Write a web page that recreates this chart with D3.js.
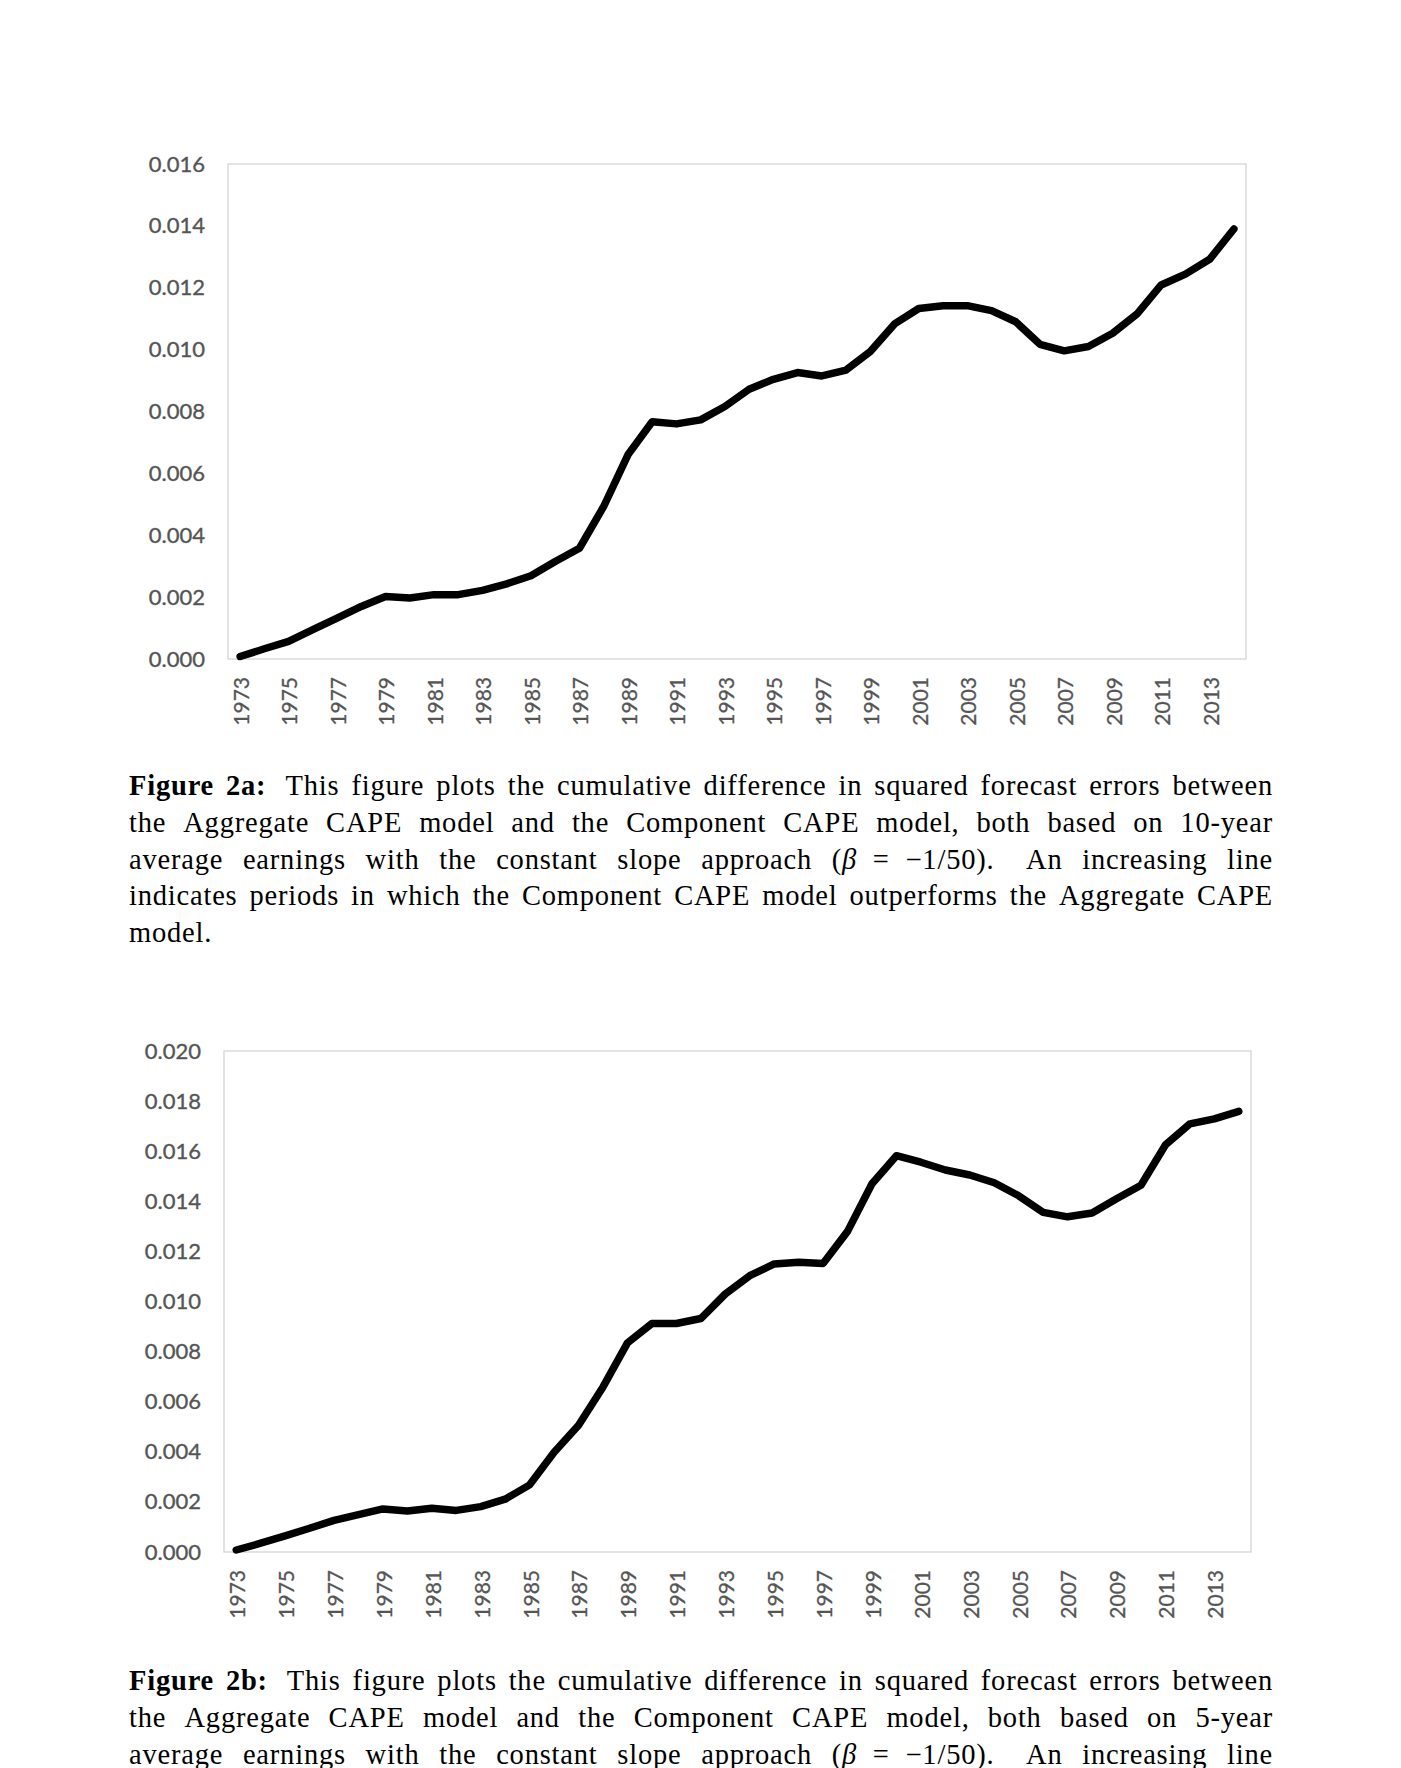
<!DOCTYPE html>
<html>
<head>
<meta charset="utf-8">
<script src="https://cdn.jsdelivr.net/npm/d3@7"></script>
<style>
  body { margin: 0; background: #fff; }
  svg { display: block; }
</style>
</head>
<body>
<div id="page"></div>
<script>
// years on the category axis (both figures)
const years = [1973, 1974, 1975, 1976, 1977, 1978, 1979, 1980, 1981, 1982, 1983, 1984, 1985, 1986,
               1987, 1988, 1989, 1990, 1991, 1992, 1993, 1994, 1995, 1996, 1997, 1998, 1999, 2000,
               2001, 2002, 2003, 2004, 2005, 2006, 2007, 2008, 2009, 2010, 2011, 2012, 2013, 2014];
const xTickYears = [1973, 1975, 1977, 1979, 1981, 1983, 1985, 1987, 1989, 1991, 1993,
                    1995, 1997, 1999, 2001, 2003, 2005, 2007, 2009, 2011, 2013];

// Figure 2a: cumulative difference, 10-year average earnings
const diff10yr = [0.00008, 0.00033, 0.00057, 0.00095, 0.00132, 0.00170, 0.00202, 0.00197, 0.00208, 0.00208,
                  0.00222, 0.00243, 0.00269, 0.00315, 0.00358, 0.00493, 0.00660, 0.00767, 0.00760, 0.00773,
                  0.00816, 0.00872, 0.00904, 0.00926, 0.00915, 0.00934, 0.00994, 0.01083, 0.01133, 0.01142,
                  0.01142, 0.01126, 0.01090, 0.01017, 0.00996, 0.01010, 0.01053, 0.01115, 0.01209, 0.01244,
                  0.01292, 0.01390];
const yTicks10yr = [0, 0.002, 0.004, 0.006, 0.008, 0.010, 0.012, 0.014, 0.016];

// Figure 2b: cumulative difference, 5-year average earnings
const diff5yr = [0.00008, 0.00035, 0.00064, 0.00095, 0.00126, 0.00149, 0.00172, 0.00164, 0.00175, 0.00166,
                 0.00181, 0.00211, 0.00268, 0.00398, 0.00506, 0.00659, 0.00835, 0.00912, 0.00912, 0.00932,
                 0.01030, 0.01103, 0.01150, 0.01157, 0.01152, 0.01280, 0.01470, 0.01582, 0.01556, 0.01525,
                 0.01505, 0.01474, 0.01422, 0.01356, 0.01338, 0.01353, 0.01410, 0.01464, 0.01625, 0.01709,
                 0.01729, 0.01759];
const yTicks5yr = [0, 0.002, 0.004, 0.006, 0.008, 0.010, 0.012, 0.014, 0.016, 0.018, 0.020];

const caption2a = [
  "Figure 2a: This figure plots the cumulative difference in squared forecast errors between",
  "the Aggregate CAPE model and the Component CAPE model, both based on 10-year",
  "average earnings with the constant slope approach (β = −1/50). An increasing line",
  "indicates periods in which the Component CAPE model outperforms the Aggregate CAPE",
  "model."
];
const caption2b = [
  "Figure 2b: This figure plots the cumulative difference in squared forecast errors between",
  "the Aggregate CAPE model and the Component CAPE model, both based on 5-year",
  "average earnings with the constant slope approach (β = −1/50). An increasing line"
];

const W = 1401, H = 1768;
const axisFont = "Lato, 'Open Sans', sans-serif";
const textFont = "'Liberation Serif', 'DejaVu Serif', serif";

const svg = d3.select("#page").append("svg")
  .attr("width", W)
  .attr("height", H);

svg.append("rect").attr("width", W).attr("height", H).attr("fill", "#fff");

function drawChart(values, yTicks, box) {
  const x = d3.scalePoint()
    .domain(years)
    .range([box.left, box.right])
    .padding(0.5);
  const y = d3.scaleLinear()
    .domain([0, d3.max(yTicks)])
    .range([box.bottom, box.top]);

  // plot area border
  svg.append("rect")
    .attr("x", box.left)
    .attr("y", box.top)
    .attr("width", box.right - box.left)
    .attr("height", box.bottom - box.top)
    .attr("fill", "none")
    .attr("stroke", "#d4d4d4")
    .attr("stroke-width", 1.3);

  const yAxis = svg.append("g")
    .attr("transform", `translate(${box.left},0)`)
    .call(d3.axisLeft(y).tickValues(yTicks).tickFormat(d3.format(".3f")).tickSize(0).tickPadding(23));
  yAxis.select(".domain").remove();
  yAxis.selectAll("text")
    .style("font-family", axisFont)
    .style("font-size", "22px")
    .attr("fill", "#555")
    .attr("stroke", "#555")
    .attr("stroke-width", 0.35);

  const xAxis = svg.append("g")
    .attr("transform", `translate(0,${box.bottom})`)
    .call(d3.axisBottom(x).tickValues(xTickYears).tickSize(0));
  xAxis.select(".domain").remove();
  xAxis.selectAll("text")
    .attr("transform", "rotate(-90)")
    .attr("x", -18)
    .attr("y", 1)
    .attr("dy", "0.35em")
    .style("text-anchor", "end")
    .style("font-family", axisFont)
    .style("font-size", "21px")
    .attr("fill", "#555")
    .attr("stroke", "#555")
    .attr("stroke-width", 0.3);

  const line = d3.line()
    .x((d, i) => x(years[i]))
    .y(d => y(d));

  svg.append("path")
    .datum(values)
    .attr("d", line)
    .attr("fill", "none")
    .attr("stroke", "#000")
    .attr("stroke-width", 7.5)
    .attr("stroke-linejoin", "round")
    .attr("stroke-linecap", "round");
}

// justified caption lines, word by word
function drawCaption(lines, left, right, baseline, lineGap) {
  const size = 28.5;
  lines.forEach((str, li) => {
    const yPos = baseline + li * lineGap;
    const words = str.split(" ");
    const g = svg.append("g");
    const nodes = words.map((w, wi) => {
      const t = g.append("text")
        .attr("y", yPos)
        .style("font-family", textFont)
        .style("font-size", size + "px")
        .style("letter-spacing", "0.8px")
        .attr("fill", "#000");
      if (li === 0 && wi < 2) {
        t.style("font-weight", "bold").text(w);
      } else if (w.includes("β")) {
        const parts = w.split("β");
        t.append("tspan").text(parts[0]);
        t.append("tspan").style("font-style", "italic").text("β");
        t.append("tspan").text(parts[1]);
      } else {
        t.text(w);
      }
      return t;
    });
    const widths = nodes.map(n => n.node().getComputedTextLength());
    const weights = words.slice(0, -1).map((w, i) => {
      if (w === "=" || words[i + 1] === "=") return 0.8;
      return /[.:]$/.test(w) ? 1.6 : 1;
    });
    const total = d3.sum(widths);
    const last = li === lines.length - 1 && lines.length > 3;
    const unit = last ? size * 0.3 : (right - left - total) / d3.sum(weights);
    let cx = left;
    nodes.forEach((n, i) => {
      n.attr("x", cx);
      cx += widths[i] + (i < weights.length ? unit * weights[i] : 0);
    });
  });
}

drawChart(diff10yr, yTicks10yr, { left: 228, right: 1246, top: 164, bottom: 659 });
drawCaption(caption2a, 129, 1273, 795, 36.8);

drawChart(diff5yr, yTicks5yr, { left: 224, right: 1251, top: 1051, bottom: 1552 });
drawCaption(caption2b, 129, 1273, 1690, 36.8);
</script>
</body>
</html>
